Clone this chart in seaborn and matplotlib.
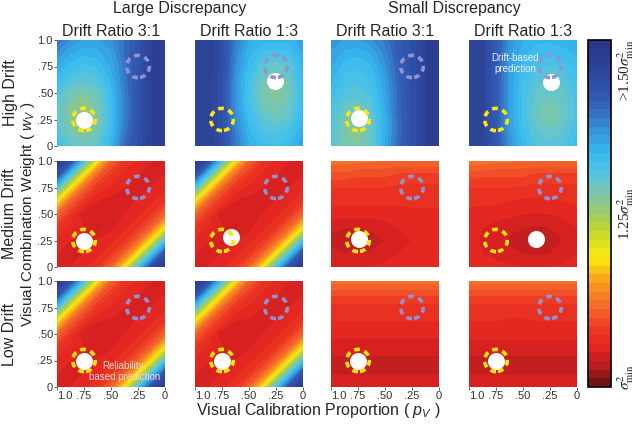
import numpy as np
import matplotlib
matplotlib.use("Agg")
import matplotlib.pyplot as plt
import seaborn as sns
from matplotlib.colors import LinearSegmentedColormap, Normalize
from matplotlib.cm import ScalarMappable
from matplotlib.patches import Circle

sns.set_theme(style="white")
plt.rcParams['font.family'] = ['Liberation Sans', 'DejaVu Sans']
plt.rcParams['mathtext.fontset'] = 'custom'
plt.rcParams['mathtext.rm'] = 'Liberation Sans'
plt.rcParams['mathtext.it'] = 'Liberation Sans:italic'

# Normalised variance on the colour scale: 0 = sigma^2_min, 0.5 = 1.25 sigma^2_min, 1 = >1.50 sigma^2_min
# Grid: columns p_V = 1.0 ... 0 (step .125), rows w_V = 1.0 (top) ... 0 (bottom)
p_grid = [1.0, 0.875, 0.75, 0.625, 0.5, 0.375, 0.25, 0.125, 0.0]
w_grid = [1.0, 0.875, 0.75, 0.625, 0.5, 0.375, 0.25, 0.125, 0.0]

high_large_31 = [
    [0.80, 0.74, 0.72, 0.72, 0.74, 0.80, 0.86, 0.95, 0.97],
    [0.74, 0.70, 0.68, 0.69, 0.72, 0.80, 0.86, 0.95, 0.97],
    [0.70, 0.66, 0.64, 0.65, 0.70, 0.78, 0.86, 0.95, 0.97],
    [0.66, 0.62, 0.60, 0.62, 0.68, 0.78, 0.86, 0.95, 0.97],
    [0.62, 0.57, 0.55, 0.58, 0.66, 0.77, 0.86, 0.95, 0.97],
    [0.60, 0.54, 0.52, 0.56, 0.65, 0.77, 0.86, 0.95, 0.97],
    [0.60, 0.54, 0.52, 0.55, 0.65, 0.77, 0.86, 0.95, 0.97],
    [0.62, 0.56, 0.54, 0.57, 0.66, 0.78, 0.87, 0.95, 0.97],
    [0.66, 0.60, 0.58, 0.60, 0.68, 0.80, 0.88, 0.95, 0.97],
]
high_large_13 = [
    [0.92, 0.95, 0.88, 0.78, 0.70, 0.68, 0.68, 0.68, 0.72],
    [0.92, 0.95, 0.88, 0.76, 0.68, 0.64, 0.63, 0.64, 0.70],
    [0.92, 0.95, 0.88, 0.75, 0.66, 0.60, 0.58, 0.60, 0.68],
    [0.92, 0.95, 0.87, 0.74, 0.64, 0.57, 0.55, 0.58, 0.67],
    [0.92, 0.95, 0.87, 0.74, 0.63, 0.56, 0.54, 0.57, 0.66],
    [0.92, 0.95, 0.87, 0.74, 0.64, 0.57, 0.55, 0.58, 0.67],
    [0.92, 0.95, 0.87, 0.75, 0.66, 0.60, 0.58, 0.60, 0.68],
    [0.92, 0.95, 0.88, 0.77, 0.68, 0.63, 0.62, 0.64, 0.70],
    [0.92, 0.95, 0.88, 0.78, 0.70, 0.66, 0.65, 0.67, 0.72],
]
high_small_31 = [
    [0.74, 0.72, 0.72, 0.74, 0.78, 0.84, 0.88, 0.95, 0.97],
    [0.72, 0.69, 0.68, 0.70, 0.76, 0.83, 0.88, 0.95, 0.97],
    [0.70, 0.66, 0.65, 0.67, 0.74, 0.82, 0.88, 0.95, 0.97],
    [0.68, 0.64, 0.63, 0.65, 0.72, 0.82, 0.88, 0.95, 0.97],
    [0.66, 0.62, 0.61, 0.63, 0.71, 0.81, 0.88, 0.95, 0.97],
    [0.64, 0.59, 0.58, 0.61, 0.70, 0.81, 0.88, 0.95, 0.97],
    [0.62, 0.56, 0.55, 0.59, 0.69, 0.80, 0.88, 0.95, 0.97],
    [0.61, 0.55, 0.54, 0.58, 0.69, 0.80, 0.88, 0.95, 0.97],
    [0.62, 0.56, 0.55, 0.59, 0.70, 0.81, 0.88, 0.95, 0.97],
]
high_small_13 = [
    [0.94, 0.93, 0.84, 0.74, 0.70, 0.68, 0.68, 0.69, 0.70],
    [0.94, 0.93, 0.84, 0.73, 0.68, 0.66, 0.65, 0.66, 0.68],
    [0.94, 0.93, 0.84, 0.72, 0.66, 0.63, 0.62, 0.63, 0.66],
    [0.94, 0.93, 0.84, 0.72, 0.65, 0.61, 0.60, 0.61, 0.65],
    [0.94, 0.93, 0.84, 0.72, 0.64, 0.59, 0.58, 0.59, 0.64],
    [0.94, 0.93, 0.84, 0.72, 0.64, 0.58, 0.56, 0.58, 0.63],
    [0.94, 0.93, 0.84, 0.72, 0.64, 0.58, 0.56, 0.58, 0.63],
    [0.94, 0.93, 0.84, 0.73, 0.65, 0.60, 0.58, 0.60, 0.65],
    [0.94, 0.93, 0.85, 0.74, 0.67, 0.62, 0.61, 0.62, 0.66],
]
med_large = [
    [0.98, 0.88, 0.62, 0.36, 0.21, 0.145, 0.115, 0.10, 0.095],
    [0.88, 0.62, 0.36, 0.21, 0.145, 0.115, 0.10, 0.095, 0.10],
    [0.62, 0.36, 0.21, 0.145, 0.115, 0.10, 0.095, 0.10, 0.115],
    [0.36, 0.21, 0.145, 0.10, 0.09, 0.095, 0.10, 0.115, 0.145],
    [0.21, 0.145, 0.07, 0.08, 0.095, 0.10, 0.115, 0.145, 0.21],
    [0.145, 0.115, 0.10, 0.07, 0.09, 0.115, 0.145, 0.21, 0.36],
    [0.115, 0.10, 0.095, 0.10, 0.115, 0.145, 0.21, 0.36, 0.62],
    [0.10, 0.095, 0.10, 0.115, 0.145, 0.21, 0.36, 0.62, 0.88],
    [0.095, 0.10, 0.115, 0.145, 0.21, 0.36, 0.62, 0.88, 0.98],
]
low_large = [
    [0.98, 0.88, 0.62, 0.36, 0.21, 0.145, 0.115, 0.10, 0.095],
    [0.88, 0.62, 0.36, 0.21, 0.145, 0.115, 0.10, 0.095, 0.10],
    [0.62, 0.36, 0.21, 0.145, 0.115, 0.10, 0.095, 0.10, 0.115],
    [0.36, 0.21, 0.145, 0.10, 0.095, 0.095, 0.10, 0.115, 0.145],
    [0.21, 0.145, 0.072, 0.085, 0.095, 0.10, 0.115, 0.145, 0.21],
    [0.145, 0.115, 0.10, 0.074, 0.095, 0.115, 0.145, 0.21, 0.36],
    [0.115, 0.10, 0.095, 0.10, 0.115, 0.145, 0.21, 0.36, 0.62],
    [0.10, 0.095, 0.10, 0.115, 0.145, 0.21, 0.36, 0.62, 0.88],
    [0.095, 0.10, 0.115, 0.145, 0.21, 0.36, 0.62, 0.88, 0.98],
]
med_small_31 = [
    [0.24, 0.24, 0.23, 0.23, 0.22, 0.22, 0.22, 0.22, 0.22],
    [0.19, 0.19, 0.18, 0.18, 0.18, 0.17, 0.17, 0.17, 0.17],
    [0.15, 0.15, 0.15, 0.15, 0.15, 0.14, 0.14, 0.14, 0.14],
    [0.13, 0.13, 0.13, 0.13, 0.13, 0.13, 0.13, 0.13, 0.13],
    [0.11, 0.11, 0.11, 0.11, 0.11, 0.115, 0.12, 0.12, 0.12],
    [0.08, 0.075, 0.075, 0.08, 0.09, 0.10, 0.11, 0.115, 0.12],
    [0.07, 0.06, 0.055, 0.06, 0.075, 0.09, 0.10, 0.11, 0.12],
    [0.08, 0.075, 0.075, 0.08, 0.09, 0.10, 0.11, 0.115, 0.12],
    [0.10, 0.10, 0.10, 0.10, 0.105, 0.11, 0.115, 0.12, 0.12],
]
med_small_13 = [
    [0.24, 0.24, 0.23, 0.23, 0.22, 0.22, 0.22, 0.22, 0.22],
    [0.19, 0.18, 0.18, 0.18, 0.18, 0.17, 0.17, 0.17, 0.17],
    [0.15, 0.15, 0.15, 0.15, 0.145, 0.14, 0.14, 0.14, 0.14],
    [0.13, 0.13, 0.13, 0.125, 0.12, 0.12, 0.12, 0.125, 0.13],
    [0.12, 0.115, 0.11, 0.105, 0.10, 0.10, 0.10, 0.105, 0.115],
    [0.115, 0.10, 0.09, 0.08, 0.075, 0.07, 0.075, 0.085, 0.10],
    [0.11, 0.095, 0.085, 0.07, 0.06, 0.055, 0.06, 0.075, 0.095],
    [0.115, 0.10, 0.09, 0.08, 0.075, 0.07, 0.075, 0.085, 0.10],
    [0.12, 0.115, 0.11, 0.105, 0.10, 0.10, 0.10, 0.105, 0.115],
]
low_small_31 = [
    [0.24, 0.24, 0.24, 0.24, 0.24, 0.24, 0.24, 0.24, 0.24],
    [0.18, 0.18, 0.18, 0.18, 0.18, 0.18, 0.18, 0.18, 0.18],
    [0.14, 0.14, 0.14, 0.14, 0.14, 0.14, 0.14, 0.14, 0.14],
    [0.125, 0.125, 0.125, 0.125, 0.125, 0.125, 0.125, 0.125, 0.125],
    [0.11, 0.11, 0.11, 0.11, 0.11, 0.11, 0.11, 0.11, 0.11],
    [0.085, 0.085, 0.085, 0.085, 0.085, 0.085, 0.085, 0.085, 0.085],
    [0.07, 0.07, 0.07, 0.07, 0.07, 0.07, 0.07, 0.07, 0.07],
    [0.075, 0.075, 0.075, 0.075, 0.075, 0.075, 0.075, 0.075, 0.075],
    [0.09, 0.09, 0.09, 0.09, 0.09, 0.09, 0.09, 0.09, 0.09],
]
low_small_13 = [
    [0.24, 0.24, 0.24, 0.24, 0.24, 0.24, 0.24, 0.24, 0.24],
    [0.18, 0.18, 0.18, 0.18, 0.18, 0.18, 0.18, 0.18, 0.18],
    [0.14, 0.14, 0.14, 0.14, 0.14, 0.14, 0.14, 0.14, 0.14],
    [0.125, 0.125, 0.125, 0.12, 0.12, 0.125, 0.125, 0.125, 0.125],
    [0.11, 0.11, 0.11, 0.11, 0.11, 0.11, 0.11, 0.11, 0.11],
    [0.085, 0.085, 0.085, 0.085, 0.085, 0.085, 0.085, 0.085, 0.085],
    [0.07, 0.07, 0.07, 0.07, 0.07, 0.07, 0.07, 0.07, 0.07],
    [0.075, 0.075, 0.075, 0.075, 0.075, 0.075, 0.075, 0.075, 0.075],
    [0.09, 0.09, 0.09, 0.09, 0.09, 0.09, 0.09, 0.09, 0.09],
]

grids = [
    [high_large_31, high_large_13, high_small_31, high_small_13],
    [med_large, med_large, med_small_31, med_small_13],
    [low_large, low_large, low_small_31, low_small_13],
]

# best-fit (white dot) locations, (p_V, w_V)
best_p = [[0.75, 0.26, 0.74, 0.24],
          [0.75, 0.67, 0.74, 0.38],
          [0.75, 0.75, 0.75, 0.75]]
best_w = [[0.25, 0.61, 0.26, 0.60],
          [0.25, 0.28, 0.26, 0.26],
          [0.25, 0.25, 0.25, 0.25]]

reliability_pred = (0.75, 0.25)
drift_pred = (0.25, 0.75)

col_titles = ["Drift Ratio 3:1", "Drift Ratio 1:3", "Drift Ratio 3:1", "Drift Ratio 1:3"]
group_titles = ["Large Discrepancy", "Small Discrepancy"]
row_titles = ["High Drift", "Medium Drift", "Low Drift"]
ticks = [0, 0.25, 0.5, 0.75, 1.0]
tick_labels = ["0", ".25", ".50", ".75", "1.0"]

cmap = LinearSegmentedColormap.from_list("var", [
    (0.00, "#731313"), (0.05, "#b81c21"), (0.10, "#e2231f"), (0.16, "#ee3a24"),
    (0.22, "#f2672a"), (0.29, "#f7961f"), (0.37, "#fdeb0f"), (0.45, "#c2d62e"),
    (0.53, "#8cc68a"), (0.58, "#6fc6c0"), (0.63, "#4cc3e8"), (0.68, "#36b9ef"),
    (0.75, "#3690d6"), (0.83, "#335cb4"), (0.92, "#2d479e"), (1.00, "#2a3689")])
levels = np.linspace(0, 1, 41)

W, H = 640, 428
fig = plt.figure(figsize=(W / 100, H / 100), dpi=100)
col_left = [57, 195, 331, 469]
row_top = [40, 161, 281]
pw, ph = 108, 106

for r in range(3):
    for c in range(4):
        ax = fig.add_axes([col_left[c] / W, 1 - (row_top[r] + ph) / H, pw / W, ph / H])
        ax.contourf(p_grid, w_grid, np.array(grids[r][c]), levels=levels, cmap=cmap,
                    vmin=0, vmax=1)
        sns.scatterplot(x=[best_p[r][c]], y=[best_w[r][c]], s=150, color="white",
                        linewidth=0, ax=ax, zorder=3, legend=False)
        ax.add_patch(Circle(reliability_pred, 0.105, fill=False, ec="#fbe610", lw=2.6,
                            ls=(0, (1.6, 1.3)), zorder=4))
        ax.add_patch(Circle(drift_pred, 0.105, fill=False, ec="#8f93d3", lw=2.6,
                            ls=(0, (1.6, 1.3)), zorder=4))
        ax.set_xlim(1, 0)
        ax.set_ylim(0, 1)
        ax.set_xlabel("")
        ax.set_ylabel("")
        for s in ax.spines.values():
            s.set_visible(False)
        ax.set_xticks(ticks)
        ax.set_yticks(ticks)
        ax.tick_params(length=2, width=0.6, color="#444444", pad=1, labelsize=8,
                       labelcolor="#333333", bottom=(r == 2), left=(c == 0))
        ax.set_xticklabels(tick_labels if r == 2 else [])
        ax.set_yticklabels(tick_labels if c == 0 else [])
        if r == 2:
            ax.get_xticklabels()[-1].set_horizontalalignment("left")
        if r == 0:
            ax.set_title(col_titles[c], fontsize=11.5, pad=3)
        if r == 0 and c == 3:
            ax.text(0.57, 0.78, "Drift-based\nprediction", color="#eef0ff", fontsize=7,
                    ha="center", va="center", linespacing=1.1)
        if r == 2 and c == 0:
            ax.text(0.37, 0.15, "Reliability-\nbased prediction", color="#ffd8d2", fontsize=7,
                    ha="center", va="center", linespacing=1.1)

for i, t in enumerate(group_titles):
    x0 = (col_left[2 * i] + col_left[2 * i + 1] + pw) / 2
    fig.text(x0 / W, 1 - 9 / H, t, fontsize=11.5, ha="center", va="center")

for r, t in enumerate(row_titles):
    fig.text(10 / W, 1 - (row_top[r] + ph / 2) / H, t, fontsize=11.5, rotation=90,
             ha="center", va="center")

fig.text(28 / W, 1 - 214 / H, "Visual Combination Weight ( $w_V$ )", fontsize=11,
         rotation=90, ha="center", va="center")
fig.text(318 / W, 1 - 411 / H, "Visual Calibration Proportion ( $p_V$ )", fontsize=11.5,
         ha="center", va="center")

# colour bar
cax = fig.add_axes([588 / W, 1 - 387 / H, 23 / W, 347 / H])
sm = ScalarMappable(norm=Normalize(0, 1), cmap=cmap.resampled(40))
cb = fig.colorbar(sm, cax=cax)
cb.set_ticks(np.linspace(0, 1, 8)[1:-1])
cb.ax.tick_params(direction="in", length=4, width=0.8, color="black", left=True, right=True,
                  labelleft=False, labelright=False)
cb.outline.set_edgecolor("black")
cb.outline.set_linewidth(1.2)
lab_kw = dict(transform=cax.transAxes, rotation=90, ha="center", fontsize=11,
              family="Liberation Serif", math_fontfamily="stix")
cax.text(1.65, 1.0, r">1.50$\sigma^2_{\mathrm{min}}$", va="top", **lab_kw)
cax.text(1.65, 0.5, r"1.25$\sigma^2_{\mathrm{min}}$", va="center", **lab_kw)
cax.text(1.65, -0.01, r"$\sigma^2_{\mathrm{min}}$", va="bottom", **lab_kw)

fig.savefig("out.png", dpi=100)
